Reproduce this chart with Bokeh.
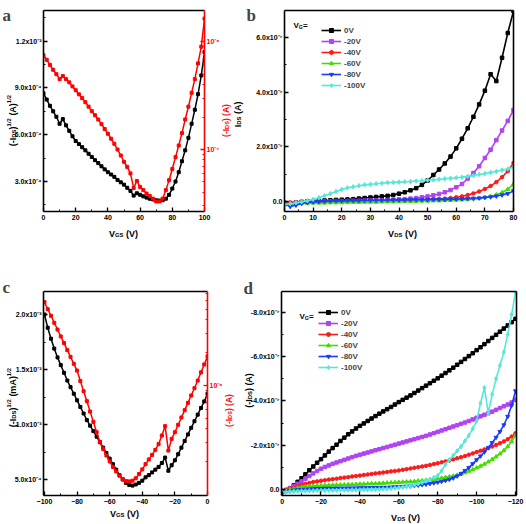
import math
from bokeh.plotting import figure
from bokeh.models import (Range1d, LinearAxis, LogAxis, LogScale, FixedTicker,
                          Label, Legend, LegendItem)
from bokeh.layouts import column, row
from bokeh.embed import file_html
from bokeh.resources import INLINE

SANS = "Liberation Sans"
SERIF = "Liberation Serif"

# ---------------- data ----------------
# panel a : transfer curve, V_GS 0..100 V
a_vgs = list(range(0, 101, 2))
a_sqrt_ids = [8.65, 8.25, 7.85, 7.5, 7.15, 6.7, 7.0, 6.6, 6.25, 5.9, 5.6, 5.4, 5.2, 5.0,
              4.78, 4.57, 4.37, 4.18, 3.98, 3.78, 3.6, 3.45, 3.3, 3.1, 2.95, 2.8, 2.6,
              2.4, 2.1, 2.25, 2.15, 2.05, 1.97, 1.9, 1.85, 1.8, 1.78, 1.8, 1.9, 2.15,
              2.55, 3.0, 3.6, 4.3, 5.0, 5.8, 6.7, 7.6, 8.6, 9.8, 11.3]          # x1e-4
a_ids = [7.5, 6.8, 6.1, 5.5, 5.0, 4.5, 4.8, 4.5, 4.2, 3.85, 3.55, 3.25, 3.0, 2.75, 2.5,
         2.27, 2.08, 1.9, 1.72, 1.55, 1.4, 1.26, 1.13, 1.0, 0.88, 0.77, 0.69, 0.6, 0.44,
         0.51, 0.45, 0.42, 0.39, 0.37, 0.35, 0.33, 0.33, 0.35, 0.42, 0.52, 0.66, 0.85,
         1.09, 1.42, 1.9, 2.5, 3.36, 4.5, 6.3, 9.0, 16.4]                      # x1e-7

# panel b : output curves, V_DS 0..80 V (x1e-7 A)
b_vds = list(range(0, 81, 2))
b_0 = [-0.08, -0.05, -0.02, 0.0, 0.02, 0.03, 0.04, 0.05, 0.06, 0.07, 0.08, 0.09, 0.1,
       0.12, 0.14, 0.16, 0.18, 0.2, 0.22, 0.25, 0.3, 0.35, 0.42, 0.5, 0.62, 0.78, 0.98,
       1.18, 1.4, 1.65, 1.95, 2.3, 2.68, 3.1, 3.55, 4.05, 4.65, 4.4, 5.25, 6.15, 6.95]
b_20 = [-0.05, -0.04, -0.02, -0.01, 0.0, 0.0, 0.01, 0.01, 0.02, 0.02, 0.03, 0.03, 0.04,
        0.04, 0.05, 0.05, 0.06, 0.06, 0.07, 0.08, 0.09, 0.1, 0.12, 0.14, 0.17, 0.2, 0.24,
        0.29, 0.35, 0.43, 0.53, 0.65, 0.85, 1.05, 1.3, 1.6, 1.9, 2.25, 2.6, 2.95, 3.35]
b_40 = [0.0, -0.02, -0.01, 0.0, 0.0, 0.01, 0.01, 0.02, 0.02, 0.02, 0.03, 0.03, 0.03, 0.04,
        0.04, 0.04, 0.05, 0.05, 0.05, 0.06, 0.06, 0.07, 0.07, 0.08, 0.08, 0.09, 0.1, 0.11,
        0.12, 0.14, 0.17, 0.2, 0.25, 0.31, 0.38, 0.47, 0.58, 0.72, 0.9, 1.12, 1.42]
b_60 = [-0.06, -0.07, -0.06, -0.05, -0.05, -0.04, -0.04, -0.04, -0.03, -0.03, -0.03, -0.02,
        -0.02, -0.02, -0.01, -0.01, -0.01, 0.0, 0.0, 0.0, 0.01, 0.01, 0.02, 0.02, 0.03,
        0.03, 0.04, 0.04, 0.05, 0.06, 0.07, 0.08, 0.09, 0.11, 0.13, 0.16, 0.2, 0.26, 0.34,
        0.46, 0.65]
b_80 = [-0.08, -0.17, -0.12, -0.06, -0.02, 0.0, 0.01, 0.02, 0.03, 0.04, 0.04, 0.05, 0.05,
        0.05, 0.06, 0.06, 0.06, 0.06, 0.07, 0.07, 0.07, 0.07, 0.08, 0.08, 0.08, 0.08, 0.09,
        0.09, 0.09, 0.1, 0.1, 0.11, 0.12, 0.13, 0.14, 0.16, 0.18, 0.21, 0.25, 0.3, 0.4]
b_100 = [-0.1, -0.07, -0.03, 0.0, 0.04, 0.09, 0.15, 0.22, 0.3, 0.38, 0.45, 0.51, 0.55, 0.59,
         0.62, 0.64, 0.66, 0.68, 0.7, 0.71, 0.72, 0.73, 0.74, 0.76, 0.77, 0.79, 0.8, 0.82,
         0.84, 0.86, 0.88, 0.9, 0.93, 0.96, 1.0, 1.03, 1.07, 1.11, 1.16, 1.2, 1.26]

# panel c : transfer curve, V_GS -100..0 V
c_vgs = list(range(-100, 1, 2))
c_sqrt_ids = [20.0, 18.8, 17.8, 16.9, 16.1, 15.4, 14.7, 14.0, 13.4, 12.8, 12.2, 11.6, 11.0,
              10.4, 9.9, 9.4, 8.9, 8.4, 7.9, 7.4, 6.9, 6.4, 5.9, 5.4, 5.0, 4.7, 4.5, 4.45,
              4.55, 4.7, 4.9, 5.2, 5.4, 5.65, 5.9, 6.15, 6.5, 7.0, 5.8, 6.3, 6.75, 7.3, 7.9,
              8.5, 9.1, 9.7, 10.3, 10.9, 11.5, 12.1, 12.8]                     # x1e-4
c_ids = [5.82, 5.01, 4.36, 3.76, 3.26, 2.82, 2.45, 2.11, 1.83, 1.58, 1.37, 1.10, 0.887,
         0.718, 0.577, 0.464, 0.373, 0.302, 0.262, 0.228, 0.201, 0.179, 0.163, 0.149,
         0.139, 0.133, 0.132, 0.134, 0.141, 0.154, 0.170, 0.190, 0.210, 0.231, 0.257,
         0.290, 0.348, 0.424, 0.253, 0.324, 0.373, 0.436, 0.509, 0.594, 0.693, 0.810,
         0.945, 1.11, 1.32, 1.56, 1.85]                                         # x1e-6

# panel d : output curves, V_DS 0..-120 V (x1e-7 A)
d_vds = list(range(0, -121, -2))
d_0 = [0.1, 0.05, -0.05, -0.2, -0.36, -0.52, -0.7, -0.88, -1.05, -1.22, -1.38, -1.55,
       -1.72, -1.88, -2.03, -2.2, -2.35, -2.5, -2.63, -2.76, -2.88, -2.99, -3.1, -3.21,
       -3.32, -3.43, -3.53, -3.63, -3.73, -3.84, -3.95, -4.05, -4.15, -4.25, -4.36, -4.47,
       -4.58, -4.69, -4.8, -4.91, -5.02, -5.14, -5.26, -5.38, -5.5, -5.63, -5.76, -5.89,
       -6.02, -6.15, -6.29, -6.42, -6.56, -6.7, -6.84, -6.98, -7.12, -7.26, -7.4, -7.55,
       -7.7]
d_20 = [0.05, 0.0, -0.08, -0.17, -0.27, -0.38, -0.5, -0.62, -0.74, -0.85, -0.95, -1.03,
        -1.1, -1.17, -1.23, -1.29, -1.35, -1.41, -1.47, -1.53, -1.58, -1.63, -1.68, -1.73,
        -1.78, -1.83, -1.88, -1.93, -1.98, -2.03, -2.08, -2.13, -2.18, -2.23, -2.28, -2.33,
        -2.38, -2.43, -2.49, -2.55, -2.61, -2.67, -2.73, -2.79, -2.85, -2.91, -2.97, -3.03,
        -3.1, -3.17, -3.24, -3.31, -3.38, -3.45, -3.52, -3.6, -3.68, -3.76, -3.84, -3.93,
        -4.05]
d_40 = [0.05, 0.0, -0.05, -0.1, -0.16, -0.22, -0.27, -0.31, -0.35, -0.38, -0.41, -0.43,
        -0.46, -0.48, -0.5, -0.53, -0.55, -0.57, -0.6, -0.62, -0.64, -0.67, -0.69, -0.71,
        -0.74, -0.76, -0.78, -0.8, -0.83, -0.85, -0.87, -0.9, -0.93, -0.96, -0.99, -1.02,
        -1.05, -1.08, -1.12, -1.16, -1.2, -1.24, -1.28, -1.32, -1.37, -1.42, -1.47, -1.52,
        -1.58, -1.64, -1.7, -1.76, -1.82, -1.88, -1.95, -2.02, -2.1, -2.18, -2.28, -2.4,
        -2.55]
d_60 = [0.1, 0.05, 0.0, -0.05, -0.09, -0.12, -0.14, -0.16, -0.17, -0.18, -0.19, -0.2, -0.2,
        -0.21, -0.22, -0.22, -0.23, -0.24, -0.24, -0.25, -0.26, -0.26, -0.27, -0.28, -0.28,
        -0.29, -0.3, -0.31, -0.32, -0.33, -0.34, -0.35, -0.36, -0.37, -0.38, -0.4, -0.41,
        -0.43, -0.45, -0.47, -0.5, -0.53, -0.56, -0.59, -0.62, -0.66, -0.71, -0.77, -0.84,
        -0.91, -0.99, -1.07, -1.16, -1.26, -1.37, -1.49, -1.62, -1.77, -1.95, -2.17, -2.45]
d_80 = [0.1, 0.08, 0.05, 0.02, 0.0, -0.01, -0.02, -0.03, -0.04, -0.05, -0.05, -0.06, -0.06,
        -0.06, -0.07, -0.07, -0.07, -0.08, -0.08, -0.08, -0.09, -0.09, -0.09, -0.1, -0.1,
        -0.1, -0.11, -0.11, -0.12, -0.13, -0.14, -0.15, -0.16, -0.17, -0.19, -0.21, -0.23,
        -0.25, -0.28, -0.31, -0.34, -0.38, -0.42, -0.47, -0.53, -0.62, -0.73, -0.86, -1.0,
        -1.17, -1.35, -1.52, -1.7, -1.9, -2.12, -2.36, -2.62, -2.92, -3.3, -3.8, -4.45]
d_100 = [0.1, 0.09, 0.08, 0.07, 0.06, 0.05, 0.05, 0.04, 0.04, 0.03, 0.03, 0.03, 0.02, 0.02,
         0.02, 0.01, 0.01, 0.01, 0.0, 0.0, 0.0, -0.01, -0.01, -0.02, -0.02, -0.03, -0.04,
         -0.05, -0.06, -0.08, -0.1, -0.12, -0.15, -0.18, -0.22, -0.27, -0.33, -0.4, -0.47,
         -0.55, -0.65, -0.85, -1.15, -1.35, -1.55, -1.75, -1.95, -2.2, -2.45, -2.75, -3.1,
         -3.9, -4.6, -3.45, -4.3, -5.0, -5.6, -6.2, -7.0, -7.9, -8.9]

vg_labels = ["0V", "-20V", "-40V", "-60V", "-80V", "-100V"]
vg_colors = ["#000000", "#B044F2", "#FF1A1A", "#44DD00", "#1A3CFF", "#55E8DA"]
vg_markers = ["square", "square", "circle", "triangle", "inverted_triangle", "diamond"]
vg_sizes = [3.5, 3.5, 3.5, 4, 4, 4.5]

PAGE_W, PAGE_H = 526, 524

# ---------------- helpers ----------------
CW = {'(': .333, ')': .333, '-': .333, 'I': .278, 'D': .722, 'S': .667, 'G': .778,
      'V': .667, 'A': .722, 'm': .889, ' ': .278, '1': .556, '2': .556, '/': .278,
      '=': .584}


def text_width(s, size):
    return sum(CW.get(ch, 0.556) for ch in s) * size


def style_axis(ax, color="black", standoff=2):
    ax.axis_line_color = color
    ax.axis_line_width = 1.6
    ax.major_tick_line_color = color
    ax.minor_tick_line_color = color
    ax.major_tick_line_width = 1.3
    ax.minor_tick_line_width = 1.0
    ax.major_tick_in = 4
    ax.major_tick_out = 0
    ax.minor_tick_in = 2
    ax.minor_tick_out = 0
    ax.major_label_text_font = SANS
    ax.major_label_text_font_style = "bold"
    ax.major_label_text_font_size = "7px"
    ax.major_label_text_color = color
    ax.major_label_standoff = standoff


def bare_axis(p, side, color="black"):
    ax = LinearAxis(ticker=FixedTicker(ticks=[]), major_label_text_font_size="0px",
                    major_label_standoff=0, axis_line_width=1.6, axis_line_color=color,
                    major_tick_out=0, minor_tick_out=0)
    p.add_layout(ax, side)


def make_fig(w, h, bl, br, bt, bb, xr, yr):
    p = figure(width=w, height=h, x_range=xr, y_range=yr, output_backend="svg",
               toolbar_location=None, min_border_left=bl, min_border_right=br,
               min_border_top=bt, min_border_bottom=bb)
    p.grid.visible = False
    p.outline_line_color = None
    p.background_fill_color = "white"
    p.border_fill_color = "white"
    return p


def series(p, x, y, color, marker, size, lw=1.6, **kw):
    ln = p.line(x, y, line_color=color, line_width=lw, **kw)
    sc = p.scatter(x, y, marker=marker, size=size, fill_color=color, line_color=color, **kw)
    return [ln, sc]


def add_legend(p, items, loc):
    lg = Legend(items=items, location=loc, orientation="vertical", glyph_width=20,
                glyph_height=10, label_height=10, spacing=1, padding=0, margin=0,
                label_standoff=3, label_text_font=SANS, label_text_font_style="bold",
                label_text_font_size="8px", border_line_color=None,
                background_fill_alpha=0)
    p.add_layout(lg)


# ---------------- panel a ----------------
pa = make_fig(227, 275, 43, 23, 10, 62, Range1d(0, 100), Range1d(1.08, 13.96))
pa.extra_y_ranges = {"log": Range1d(0.266, 19.5)}
pa.extra_y_scales = {"log": LogScale()}
pa.xaxis.ticker = FixedTicker(ticks=[0, 20, 40, 60, 80, 100], minor_ticks=[10, 30, 50, 70, 90])
pa.yaxis.ticker = FixedTicker(ticks=[3, 6, 9, 12], minor_ticks=[1.5, 4.5, 7.5, 10.5, 13.5])
pa.yaxis.major_label_overrides = {3: "3.0x10⁻⁴", 6: "6.0x10⁻⁴", 9: "9.0x10⁻⁴", 12: "1.2x10⁻³"}
style_axis(pa.xaxis[0], standoff=3)
style_axis(pa.yaxis[0])
ra = LogAxis(y_range_name="log",
             ticker=FixedTicker(ticks=[1, 10],
                                minor_ticks=[0.3, 0.4, 0.5, 0.6, 0.7, 0.8, 0.9,
                                             2, 3, 4, 5, 6, 7, 8, 9]),
             major_label_overrides={1: "10⁻⁷", 10: "10⁻⁶"})
style_axis(ra, color="#FF0000")
pa.add_layout(ra, "right")
bare_axis(pa, "above")
series(pa, a_vgs, a_sqrt_ids, "black", "square", 3, lw=1.5)
series(pa, a_vgs, a_ids, "#FF0000", "square", 3, lw=1.5, y_range_name="log")

# ---------------- panel b ----------------
pb = make_fig(299, 275, 57, 13, 10, 64, Range1d(0, 80), Range1d(-0.35, 6.97))
pb.xaxis.ticker = FixedTicker(ticks=list(range(0, 81, 10)), minor_ticks=list(range(5, 80, 10)))
pb.yaxis.ticker = FixedTicker(ticks=[0, 2, 4, 6], minor_ticks=[1, 3, 5])
pb.yaxis.major_label_overrides = {0: "0.0", 2: "2.0x10⁻⁷", 4: "4.0x10⁻⁷", 6: "6.0x10⁻⁷"}
style_axis(pb.xaxis[0], standoff=3)
style_axis(pb.yaxis[0])
bare_axis(pb, "above")
bare_axis(pb, "right")
items = []
for lab, ys, col, mk, sz in zip(vg_labels, [b_0, b_20, b_40, b_60, b_80, b_100],
                                vg_colors, vg_markers, vg_sizes):
    items.append(LegendItem(label=lab, renderers=series(pb, b_vds, ys, col, mk, sz)))
add_legend(pb, items, (37, 121))

# ---------------- panel c ----------------
pc = make_fig(236, 249, 43, 29, 16, 29, Range1d(-100.6, 0), Range1d(3.55, 22.09))
pc.extra_y_ranges = {"log": Range1d(0.098, 7.28)}
pc.extra_y_scales = {"log": LogScale()}
pc.xaxis.ticker = FixedTicker(ticks=list(range(-100, 1, 20)), minor_ticks=list(range(-90, 0, 20)))
pc.yaxis.ticker = FixedTicker(ticks=[5, 10, 15, 20], minor_ticks=[7.5, 12.5, 17.5])
pc.yaxis.major_label_overrides = {5: "5.0x10⁻⁴", 10: "1.0x10⁻³", 15: "1.5x10⁻³", 20: "2.0x10⁻³"}
style_axis(pc.xaxis[0], standoff=3)
style_axis(pc.yaxis[0])
rc = LogAxis(y_range_name="log",
             ticker=FixedTicker(ticks=[1],
                                minor_ticks=[0.2, 0.3, 0.4, 0.5, 0.6, 0.7, 0.8, 0.9,
                                             2, 3, 4, 5, 6, 7]),
             major_label_overrides={1: "10⁻⁶"})
style_axis(rc, color="#FF0000")
pc.add_layout(rc, "right")
bare_axis(pc, "above")
series(pc, c_vgs, c_sqrt_ids, "black", "square", 3, lw=1.5)
series(pc, c_vgs, c_ids, "#FF0000", "square", 3, lw=1.5, y_range_name="log")

# ---------------- panel d ----------------
pd = make_fig(290, 249, 45, 10, 16, 29, Range1d(0.3, -120.5), Range1d(0.256, -8.93))
pd.xaxis.ticker = FixedTicker(ticks=list(range(0, -121, -20)), minor_ticks=list(range(-10, -120, -20)))
pd.yaxis.ticker = FixedTicker(ticks=[0, -2, -4, -6, -8], minor_ticks=[-1, -3, -5, -7])
pd.yaxis.major_label_overrides = {0: "0.0", -2: "-2.0x10⁻⁷", -4: "-4.0x10⁻⁷",
                                  -6: "-6.0x10⁻⁷", -8: "-8.0x10⁻⁷"}
style_axis(pd.xaxis[0], standoff=3)
style_axis(pd.yaxis[0])
bare_axis(pd, "above")
bare_axis(pd, "right")
items = []
for lab, ys, col, mk, sz in zip(vg_labels, [d_0, d_20, d_40, d_60, d_80, d_100],
                                vg_colors, vg_markers, vg_sizes):
    items.append(LegendItem(label=lab, renderers=series(pd, d_vds, ys, col, mk, sz)))
add_legend(pd, items, (37, 123))

# ---------------- text overlay (axis titles with sub/superscripts, panel letters) -------
ov = figure(width=PAGE_W, height=PAGE_H, x_range=Range1d(0, 1), y_range=Range1d(0, 1),
            output_backend="svg", toolbar_location=None, min_border=0,
            x_axis_type=None, y_axis_type=None,
            styles={"position": "absolute", "left": "0px", "top": "0px", "z-index": "10"})
ov.grid.visible = False
ov.outline_line_color = None
ov.background_fill_color = None
ov.border_fill_color = None


def rich_label(parts, px, py, size=9, color="black", vertical=False):
    sizes = [size if k == "n" else size * 0.66 for _, k in parts]
    widths = [text_width(t, fs) for (t, _), fs in zip(parts, sizes)]
    total = sum(widths)
    sx, sy = px, PAGE_H - py
    pos = (sy if vertical else sx) - total / 2
    for (t, k), fs, w in zip(parts, sizes, widths):
        lead = len(t) - len(t.lstrip(" "))
        shown = t.lstrip(" ")
        start = pos + text_width(" " * lead, fs)
        off = 0 if k == "n" else (-0.22 * size if k == "sub" else 0.38 * size)
        x, y = (sx - off, start) if vertical else (start, sy + off)
        ov.add_layout(Label(x=x, y=y, x_units="screen", y_units="screen", text=shown,
                            angle=math.pi / 2 if vertical else 0, text_font=SANS,
                            text_font_style="bold", text_font_size=f"{fs:.1f}px",
                            text_color=color, text_baseline="alphabetic",
                            text_align="left"))
        pos += w


def letter(ch, px, py):
    ov.add_layout(Label(x=px, y=PAGE_H - py, x_units="screen", y_units="screen", text=ch,
                        text_font=SERIF, text_font_style="bold", text_font_size="17px",
                        text_baseline="alphabetic", text_align="left"))


RED = "#FF0000"
# panel a
rich_label([("V", "n"), ("GS", "sub"), (" (V)", "n")], 123, 233)
rich_label([("(-I", "n"), ("DS", "sub"), (")", "n"), ("1/2", "sup"), (" (A)", "n"),
            ("1/2", "sup")], 12, 120, size=9, vertical=True)
rich_label([("(-I", "n"), ("DS", "sub"), (") (A)", "n")], 225, 120, size=8.5,
           color=RED, vertical=True)
letter("a", 2, 15)
# panel b
rich_label([("V", "n"), ("G", "sub"), ("=", "n")], 300, 25, size=8)
rich_label([("V", "n"), ("DS", "sub"), (" (V)", "n")], 402, 233)
rich_label([("I", "n"), ("DS", "sub"), (" (A)", "n")], 237, 114, size=9, vertical=True)
letter("b", 246, 15)
# panel c
rich_label([("V", "n"), ("GS", "sub"), (" (V)", "n")], 124, 513)
rich_label([("(-I", "n"), ("DS", "sub"), (")", "n"), ("1/2", "sup"), (" (mA)", "n"),
            ("1/2", "sup")], 12, 397, size=9, vertical=True)
rich_label([("(-I", "n"), ("DS", "sub"), (") (A)", "n")], 228, 410, size=8.5,
           color=RED, vertical=True)
letter("c", 2, 287)
# panel d
rich_label([("V", "n"), ("G", "sub"), ("=", "n")], 306, 316, size=8)
rich_label([("V", "n"), ("DS", "sub"), (" (V)", "n")], 405, 517)
rich_label([("(-I", "n"), ("DS", "sub"), (") (A)", "n")], 248, 390, size=9, vertical=True)
letter("d", 243, 288)

layout = column(column(row(pa, pb), row(pc, pd)), ov)
open("out.html", "w").write(file_html(layout, INLINE))
